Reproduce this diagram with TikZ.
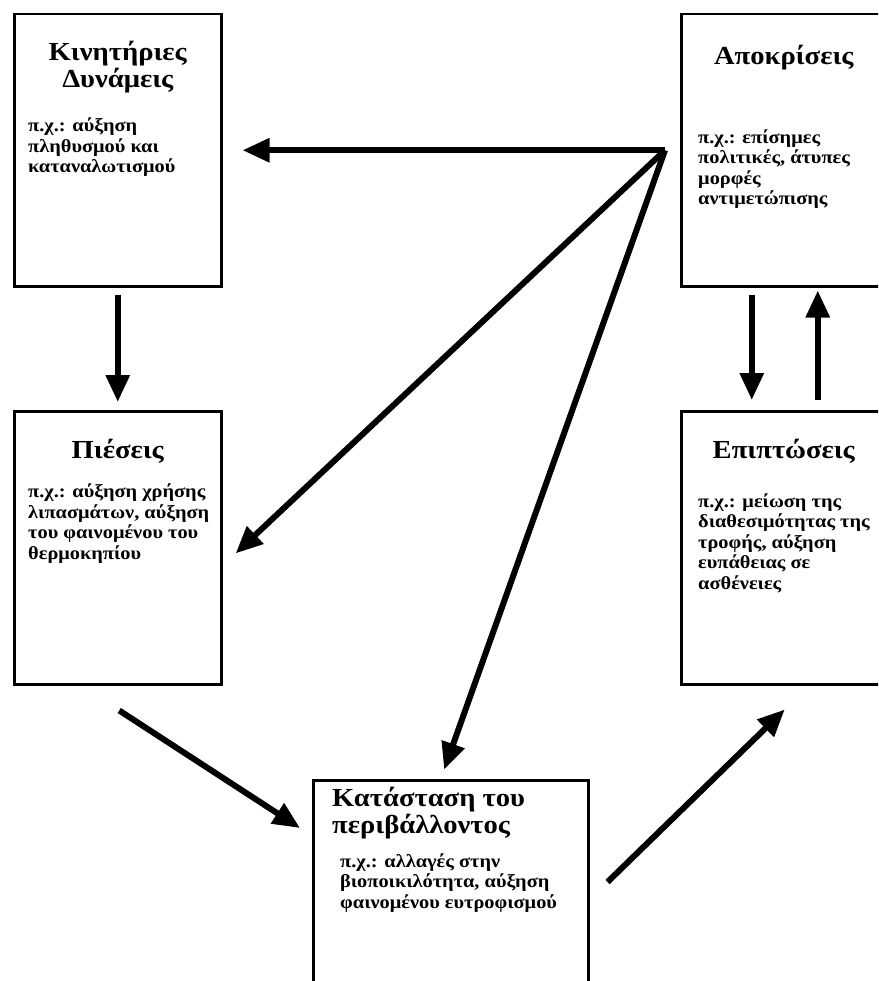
\documentclass[tikz,border=0pt]{standalone}
\usepackage{fontspec}
\setmainfont{Liberation Serif}
\newfontfamily\widefont[FakeStretch=1.1]{Liberation Serif}
\usetikzlibrary{arrows.meta}
\tikzset{panel/.style={draw,line width=2.5pt,anchor=north west,inner sep=0pt,
 minimum width=207pt,minimum height=272pt},
 heading/.style={font=\widefont\fontsize{26}{27}\selectfont\bfseries,align=center,inner sep=0pt,anchor=base},
 detail/.style={font=\widefont\fontsize{18.5}{20.5}\selectfont\bfseries,align=left,inner sep=0pt,anchor=base west},
 flow/.style={-{Triangle[length=27pt,width=23pt]},line width=6pt}}

\begin{document}
\begin{tikzpicture}[x=1pt,y=-1pt]
\useasboundingbox (0,0) rectangle (878,981);
\clip (0,0) rectangle (878,981);
% boxes
\node[panel] (drv) at (13,13) {};
\node[panel,minimum width=205pt] (resp) at (680,13) {};
\node[panel,minimum height=273pt] (prs) at (13,410) {};
\node[panel,minimum width=205pt,minimum height=273pt] (imp) at (680,410) {};
\node[panel,minimum width=275pt,minimum height=230pt] (env) at (312,779) {};
% headings (anchored at the last line)
\node[heading] (drvT) at ([shift={(0,75)}]drv.north) {Κινητήριες\\Δυνάμεις};
\node[heading] (respT) at ([shift={(0,52)}]resp.north) {Αποκρίσεις};
\node[heading] (prsT) at ([shift={(0,48)}]prs.north) {Πιέσεις};
\node[heading] (impT) at ([shift={(0,48)}]imp.north) {Επιπτώσεις};
\node[heading,align=left,anchor=base west] (envT) at ([shift={(20,54)}]env.north west) {Κατάσταση του\\περιβάλλοντος};
% examples
\node[detail] (drvB) at ([shift={(15,160)}]drv.north west) {π.χ.: αύξηση\\πληθυσμού και\\καταναλωτισμού};
\node[detail] (respB) at ([shift={(18,192)}]resp.north west) {π.χ.: επίσημες\\πολιτικές, άτυπες\\μορφές\\αντιμετώπισης};
\node[detail] (prsB) at ([shift={(15,149)}]prs.north west) {π.χ.: αύξηση χρήσης\\λιπασμάτων, αύξηση\\του φαινομένου του\\θερμοκηπίου};
\node[detail] (impB) at ([shift={(18,179)}]imp.north west) {π.χ.: μείωση της\\διαθεσιμότητας της\\τροφής, αύξηση\\ευπάθειας σε\\ασθένειες};
\node[detail] (envB) at ([shift={(28,129)}]env.north west) {π.χ.: αλλαγές στην\\βιοποικιλότητα, αύξηση\\φαινομένου ευτροφισμού};
% arrows
\coordinate (hub) at ([xshift=-15pt]resp.west);
\draw[flow,shorten <=7pt,shorten >=8pt] (drv.south) -- (prs.north);
\draw[flow,shorten <=7pt,shorten >=10pt] ([xshift=-32pt]resp.south) -- ([xshift=-32pt]imp.north);
\draw[flow,shorten <=10pt,shorten >=3pt] ([xshift=34pt]imp.north) -- ([xshift=34pt]resp.south);
\draw[flow,shorten >=20pt] (hub) -- (drv.east);
\draw[flow,shorten >=18pt] (hub) -- ([yshift=-18pt]prs.east);
\draw[flow,shorten >=10pt] (hub) -- ([xshift=-10pt]env.north);
\draw[flow] ([shift={(1.5,25)}]prs.south) -- ([shift={(-12,49)}]env.north west);
\draw[flow] ([shift={(18,103)}]env.north east) -- ([shift={(1,24)}]imp.south);
\end{tikzpicture}
\end{document}
